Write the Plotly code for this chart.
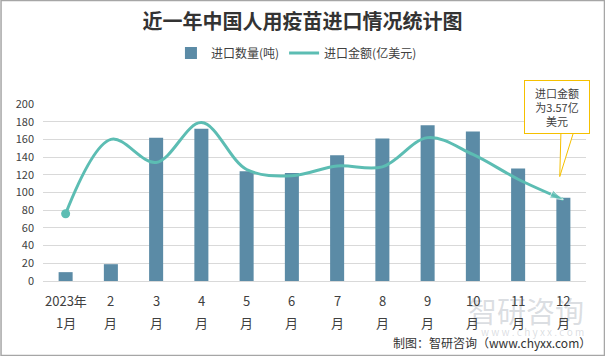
import plotly.graph_objects as go

months_top = ["2023年", "2", "3", "4", "5", "6", "7", "8", "9", "10", "11", "12"]
months_bottom = ["1月", "月", "月", "月", "月", "月", "月", "月", "月", "月", "月", "月"]
qty_tons = [10, 19, 162, 172, 124, 122, 142, 161, 176, 169, 127, 94]
amount_scaled = [76, 160, 134, 179, 126, 119, 130, 129, 162, 143, 115, 92]
y_ticks = [0, 20, 40, 60, 80, 100, 120, 140, 160, 180, 200]

x = list(range(len(qty_tons)))
FONT = "Noto Sans CJK SC"
LINE_C = "#5cbdb3"
BAR_C = "#5b8ba6"

fig = go.Figure()
fig.add_trace(go.Bar(
    x=x, y=qty_tons, name="进口数量(吨)",
    marker=dict(color=BAR_C, line=dict(width=0)),
    width=0.31,
))
fig.add_trace(go.Scatter(
    x=x, y=amount_scaled, name="进口金额(亿美元)",
    mode="lines",
    line=dict(color=LINE_C, width=3, shape="spline", smoothing=1.0),
))
# end markers: circle at start, arrow at end
fig.add_trace(go.Scatter(
    x=[x[0]], y=[amount_scaled[0]], mode="markers", showlegend=False,
    marker=dict(symbol="circle", size=9, color=LINE_C),
))
fig.add_trace(go.Scatter(
    x=x[-2:], y=amount_scaled[-2:], mode="markers", showlegend=False,
    marker=dict(symbol="arrow", size=[0, 14], color=LINE_C, angleref="previous"),
))

pw, ph = 605 - 42.5 - 19, 356 - 104 - 75

annotations = []
# watermark (behind the labels)
annotations.append(dict(x=(586 - 42.5) / pw, y=(281 - 310) / ph, xref="paper", yref="paper",
                        xanchor="right", yanchor="middle", showarrow=False, text="智研咨询",
                        font=dict(family=FONT, size=29, color="rgba(160,168,178,0.38)")))
annotations.append(dict(x=(586 - 42.5) / pw, y=(281 - 331) / ph, xref="paper", yref="paper",
                        xanchor="right", yanchor="middle", showarrow=False,
                        text="w w w . c h y x x . c o m",
                        font=dict(family=FONT, size=10, color="rgba(160,168,178,0.38)")))
for i, (t, b) in enumerate(zip(months_top, months_bottom)):
    annotations.append(dict(x=i, y=0, xref="x", yref="paper", text=t, showarrow=False,
                            yshift=-19, yanchor="middle",
                            font=dict(family=FONT, size=13, color="#404040")))
    annotations.append(dict(x=i, y=0, xref="x", yref="paper", text=b, showarrow=False,
                            yshift=-41, yanchor="middle",
                            font=dict(family=FONT, size=13, color="#404040")))
# callout
annotations.append(dict(
    x=10.86, y=196.5, xref="x", yref="y", showarrow=False,
    text="进口金额<br>为3.57亿<br>美元", align="center",
    font=dict(family=FONT, size=11, color="#404040"),
    bgcolor="white", bordercolor="#f5c000", borderwidth=1, borderpad=4,
    width=56, height=44, yanchor="middle", xanchor="center",
))
# source
annotations.append(dict(x=(593 - 42.5) / pw, y=(281 - 342) / ph, xref="paper", yref="paper",
                        showarrow=False, xanchor="right", yanchor="middle",
                        text="制图：智研咨询（www.chyxx.com）",
                        font=dict(family=FONT, size=12, color="#333333")))

fig.update_layout(
    width=605, height=356,
    margin=dict(l=42.5, r=19, t=104, b=75),
    paper_bgcolor="white", plot_bgcolor="white",
    title=dict(text="<b>近一年中国人用疫苗进口情况统计图</b>", x=0.5, xref="container",
               y=1 - 22 / 356, yref="container", xanchor="center", yanchor="middle",
               font=dict(family=FONT, size=20, color="#333333")),
    legend=dict(orientation="h", x=0.49, xref="container", xanchor="center",
                y=1 - 53 / 356, yref="container", yanchor="middle",
                font=dict(family=FONT, size=12, color="#404040"),
                itemwidth=30, traceorder="normal"),
    showlegend=True,
    xaxis=dict(range=[-0.5, 11.5], tickvals=x, showticklabels=False, showgrid=False,
               showline=True, linecolor="#d9d9d9", linewidth=1, ticks="", zeroline=False),
    yaxis=dict(range=[0, 200], tickvals=y_ticks, showgrid=True, gridcolor="#d9d9d9",
               gridwidth=1, zeroline=False, showline=False, ticks="",
               tickfont=dict(family=FONT, size=11, color="#404040"), ticklabelstandoff=8),
    annotations=annotations,
)

# callout pointer
fig.add_shape(type="path", xref="x", yref="y",
              path="M 10.95 175.5 L 10.92 118 L 11.27 175.5 Z",
              line=dict(color="#f5c000", width=1), fillcolor="white", layer="above")
# figure border
fig.add_shape(type="rect", xref="paper", yref="paper",
              x0=(0.5 - 42.5) / pw, x1=(604.5 - 42.5) / pw,
              y0=(281 - 355.5) / ph, y1=(281 - 0.5) / ph,
              line=dict(color="#a6a6a6", width=1.5), fillcolor="rgba(0,0,0,0)")

fig.write_html("out.html", config={"displayModeBar": False},
               post_script="document.body.style.margin='0';")
